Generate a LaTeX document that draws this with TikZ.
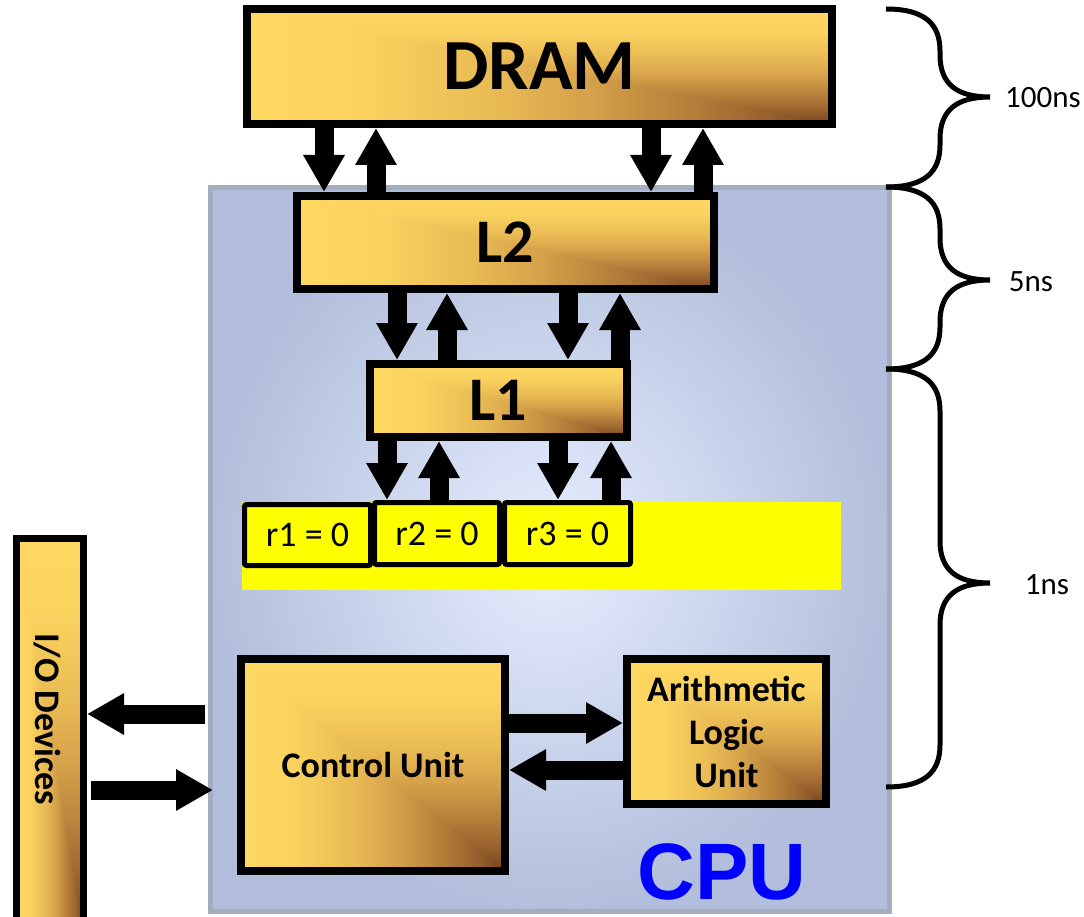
\documentclass[tikz,border=0pt]{standalone}
\usepackage{fontspec}
\setmainfont{Carlito}
\newfontfamily\cpufont{Liberation Sans}
\usetikzlibrary{arrows.meta,calc}

\definecolor{goldA}{HTML}{FFD862}
\definecolor{goldB}{HTML}{FAD25E}
\definecolor{goldC}{HTML}{E9BB54}
\definecolor{goldD}{HTML}{D6A24A}
\definecolor{goldE}{HTML}{B8823C}
\definecolor{goldF}{HTML}{9A632E}
\definecolor{goldG}{HTML}{78421E}
\definecolor{cpuin}{HTML}{E6EEFF}
\definecolor{cpuout}{HTML}{B2BEDB}
\definecolor{cpuedge}{HTML}{A3ADBD}
\definecolor{regyellow}{HTML}{FFFF00}
\definecolor{cpublue}{HTML}{0000FF}

% golden fill: light towards the top and left edges, dark into the lower right corner
\pgfdeclarehorizontalshading{goldh}{100bp}{color(0bp)=(goldA); color(25bp)=(goldA);
  color(35bp)=(goldB); color(46bp)=(goldC); color(54bp)=(goldD);
  color(62bp)=(goldE); color(69bp)=(goldF); color(75bp)=(goldG); color(100bp)=(goldG)}
\pgfdeclareverticalshading{goldv}{100bp}{color(0bp)=(goldG); color(25bp)=(goldG);
  color(31bp)=(goldF); color(38bp)=(goldE); color(46bp)=(goldD);
  color(54bp)=(goldC); color(65bp)=(goldB); color(75bp)=(goldA); color(100bp)=(goldA)}

% curly brace on the right: top y, bottom y, tip y
\newcommand\latbrace[3]{%
  \draw[bracestyle] (886,#1) .. controls (926,#1) and (940,#1+16) .. (940,#1+42)
    -- (940,#3-42) .. controls (940,#3-12) and (958,#3) .. (990,#3)
    .. controls (958,#3) and (940,#3+12) .. (940,#3+42)
    -- (940,#2-42) .. controls (940,#2-16) and (926,#2) .. (886,#2);}

\begin{document}
\begin{tikzpicture}[x=1pt,y=-1pt,
  box/.style={draw=black, line width=8pt, inner sep=0pt, align=center,
    path picture={
      \shade[shading=goldh] (path picture bounding box.north west)
        rectangle (path picture bounding box.south east);
      \shade[shading=goldv] (path picture bounding box.north west)
        -- (path picture bounding box.north east)
        -- (path picture bounding box.south east) -- cycle;}},
  bold/.style={font=\bfseries\fontsize{36}{43}\selectfont},
  big/.style={font=\bfseries\fontsize{#1}{#1}\selectfont},
  reg/.style={draw=black, line width=5pt, fill=regyellow, rounded corners=2pt,
    inner sep=0pt, font=\fontsize{36}{40}\selectfont},
  blk/.style={line width=19pt, -{Triangle[width=39pt,length=37pt]}},
  bracestyle/.style={line width=5pt},
  lat/.style={font=\fontsize{31}{34}\selectfont}]

\useasboundingbox (0,0) rectangle (1084,917);

% processor area
\node[draw=cpuedge, line width=5pt, inner color=cpuin, outer color=cpuout,
  minimum width=679pt, minimum height=724pt, inner sep=0pt] (CPU) at (550,549.5) {};
\node[text=cpublue, font=\cpufont\bfseries\fontsize{80}{90}\selectfont] (cpulabel) at (722,872) {CPU};

% memory hierarchy
\node[box, big=72, minimum width=585pt, minimum height=115pt] (DRAM) at (539.5,66.5) {DRAM};
\node[box, big=62, minimum width=417pt, minimum height=93pt] (L2) at (505.5,242.5) {L2};
\node[box, big=62, minimum width=257pt, minimum height=73pt] (L1) at (498.5,400.5) {L1};

% register file
\node[fill=regyellow, minimum width=599pt, minimum height=88pt, inner sep=0pt] (band) at (541.5,546) {};
\node[reg, minimum width=126pt, minimum height=61pt] (r1) at (307.5,535) {r1 = 0};
\node[reg, minimum width=125pt, minimum height=62pt] (r2) at (437,533.5) {r2 = 0};
\node[reg, minimum width=126pt, minimum height=62pt] (r3) at (567.5,533.5) {r3 = 0};

% execution units
\node[box, bold, minimum width=264pt, minimum height=212pt] (CU) at (373,765) {Control Unit};
\node[box, bold, minimum width=199pt, minimum height=145pt] (ALU) at (726.5,731.5) {Arithmetic\\Logic\\Unit};

% peripherals
\node[box, line width=7pt, minimum width=67pt, minimum height=388pt] (IO) at (50,732.5) {};
\node[bold, rotate=-90] (iotext) at (47,719) {I/O Devices};

% arrow columns
\coordinate (a1) at (324,0); \coordinate (a2) at (376,0);
\coordinate (a3) at (651,0); \coordinate (a4) at (703,0);
\coordinate (b1) at (397,0); \coordinate (b2) at (447,0);
\coordinate (b3) at (568,0); \coordinate (b4) at (620,0);
\coordinate (d1) at (387,0); \coordinate (d2) at (439,0);
\coordinate (d3) at (558,0); \coordinate (d4) at (611,0);
% arrow rows
\coordinate (h1) at (0,723); \coordinate (h2) at (0,770);
\coordinate (h3) at (0,714); \coordinate (h4) at (0,790);

% DRAM <-> L2
\draw[blk] (DRAM.south -| a1) -- (L2.north -| a1);
\draw[blk] (L2.north -| a2) -- (DRAM.south -| a2);
\draw[blk] (DRAM.south -| a3) -- (L2.north -| a3);
\draw[blk] (L2.north -| a4) -- (DRAM.south -| a4);
% L2 <-> L1
\draw[blk] (L2.south -| b1) -- (L1.north -| b1);
\draw[blk] (L1.north -| b2) -- (L2.south -| b2);
\draw[blk] (L2.south -| b3) -- (L1.north -| b3);
\draw[blk] (L1.north -| b4) -- (L2.south -| b4);
% L1 <-> registers
\draw[blk] (L1.south -| d1) -- (r2.north -| d1);
\draw[blk] (r2.north -| d2) -- (L1.south -| d2);
\draw[blk] (L1.south -| d3) -- (r3.north -| d3);
\draw[blk] (r3.north -| d4) -- (L1.south -| d4);
% control unit <-> ALU
\draw[blk] (CU.east |- h1) -- (ALU.west |- h1);
\draw[blk] (ALU.west |- h2) -- (CU.east |- h2);
% processor <-> devices
\coordinate (iotail) at (205,714);
\draw[blk] (iotail) -- (IO.east |- h3);
\draw[blk] ($(IO.east |- h4)+(4,0)$) -- ($(CPU.west |- h4)+(5,0)$);

% access latencies
\latbrace{9}{187}{97}
\latbrace{187}{369}{280}
\latbrace{369}{787}{583}
\node[lat] (t100) at (1043,98) {100ns};
\node[lat] (t5) at (1031,282) {5ns};
\node[lat] (t1) at (1047,585) {1ns};
\end{tikzpicture}
\end{document}
